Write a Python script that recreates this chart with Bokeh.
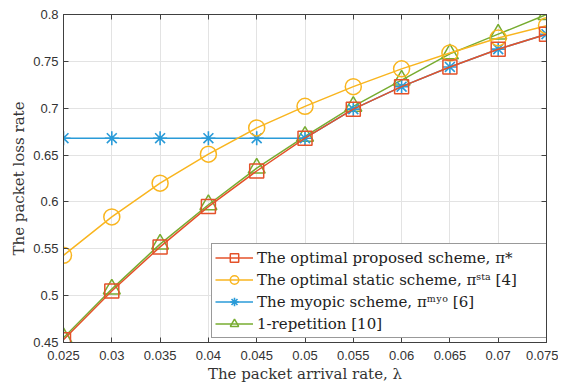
from bokeh.plotting import figure
from bokeh.models import (Range1d, FixedTicker, LinearAxis, Legend, LegendItem,
                          ColumnDataSource, CustomJSTickFormatter)
from bokeh.embed import file_html
from bokeh.resources import INLINE

# ---- data ----
arrival_rate = [0.025, 0.03, 0.035, 0.04, 0.045, 0.05, 0.055, 0.06, 0.065, 0.07, 0.075]
proposed = [0.453, 0.505, 0.552, 0.595, 0.633, 0.668, 0.699, 0.723, 0.744, 0.763, 0.779]
static = [0.543, 0.584, 0.620, 0.651, 0.679, 0.702, 0.723, 0.742, 0.759, 0.775, 0.788]
myopic = [0.668, 0.668, 0.668, 0.668, 0.668, 0.668, 0.699, 0.723, 0.744, 0.763, 0.779]
repetition = [0.455, 0.507, 0.555, 0.597, 0.636, 0.670, 0.702, 0.730, 0.758, 0.779, 0.800]

x_ticks = [0.025, 0.03, 0.035, 0.04, 0.045, 0.05, 0.055, 0.06, 0.065, 0.07, 0.075]
x_tick_labels = ["0.025", "0.03", "0.035", "0.04", "0.045", "0.05", "0.055", "0.06", "0.065", "0.07", "0.075"]
y_ticks = [0.45, 0.5, 0.55, 0.6, 0.65, 0.7, 0.75, 0.8]
y_tick_labels = ["0.45", "0.5", "0.55", "0.6", "0.65", "0.7", "0.75", "0.8"]

labels = ["The optimal proposed scheme, π*",
          "The optimal static scheme, πˢᵗᵃ [4]",
          "The myopic scheme, πᵐʸᵒ [6]",
          "1-repetition [10]"]

RED = "#E4522A"
YEL = "#F9B51F"
BLU = "#2A9BD8"
GRN = "#77AC30"
AX = "#404040"
SERIF = "DejaVu Serif"

src = ColumnDataSource(dict(x=arrival_rate, p=proposed, s=static, m=myopic, r=repetition))

p = figure(frame_width=483, frame_height=328, output_backend="svg", toolbar_location=None,
           x_range=Range1d(0.025, 0.075), y_range=Range1d(0.45, 0.8),
           min_border_left=63, min_border_right=12, min_border_top=14, min_border_bottom=38)

# draw order: green, blue, yellow, red
lg = p.line("x", "r", source=src, color=GRN, line_width=1.5)
mg = p.scatter("x", "r", source=src, marker="triangle", size=17, fill_color=None,
               line_color=GRN, line_width=1.5)
lb = p.line("x", "m", source=src, color=BLU, line_width=1.5)
mb = p.scatter("x", "m", source=src, marker="asterisk", size=14, line_color=BLU, line_width=1.6)
ly = p.line("x", "s", source=src, color=YEL, line_width=1.5)
my = p.scatter("x", "s", source=src, marker="circle", size=16, fill_color=None,
               line_color=YEL, line_width=1.5)
lr = p.line("x", "p", source=src, color=RED, line_width=1.5)
mr = p.scatter("x", "p", source=src, marker="square", size=14, fill_color=None,
               line_color=RED, line_width=1.5)

# axes
p.xaxis.ticker = FixedTicker(ticks=x_ticks)
p.xaxis.major_label_overrides = {t: l for t, l in zip(x_ticks, x_tick_labels)}
p.yaxis.ticker = FixedTicker(ticks=y_ticks)
p.yaxis.major_label_overrides = {t: l for t, l in zip(y_ticks, y_tick_labels)}

for ax in [p.xaxis[0], p.yaxis[0]]:
    ax.major_tick_in = 5
    ax.major_tick_out = 0
    ax.minor_tick_line_color = None
    ax.axis_line_color = AX
    ax.major_tick_line_color = AX
    ax.major_label_text_font = "Liberation Sans"
    ax.major_label_text_font_size = "13px"
    ax.major_label_text_color = "#333333"
    ax.axis_label_text_font = SERIF
    ax.axis_label_text_font_size = "15px"
    ax.axis_label_text_font_style = "normal"
    ax.axis_label_text_color = "#333333"

p.xaxis.major_label_standoff = 8
p.yaxis.major_label_standoff = 5
p.xaxis.axis_label = "The packet arrival rate, λ"
p.yaxis.axis_label = "The packet loss rate"
p.xaxis.axis_label_standoff = 2
p.yaxis.axis_label_standoff = 2

for loc, tk in (("right", y_ticks), ("above", x_ticks)):
    ax = LinearAxis(ticker=FixedTicker(ticks=tk),
                    formatter=CustomJSTickFormatter(code="return '';"))
    ax.major_label_standoff = 0
    ax.major_tick_in = 5
    ax.major_tick_out = 0
    ax.minor_tick_line_color = None
    ax.axis_line_color = AX
    ax.major_tick_line_color = AX
    p.add_layout(ax, loc)

p.xgrid.ticker = FixedTicker(ticks=x_ticks)
p.ygrid.ticker = FixedTicker(ticks=y_ticks)
p.grid.grid_line_color = "#E3E3E3"
p.outline_line_color = AX

legend = Legend(items=[LegendItem(label=labels[0], renderers=[lr, mr]),
                       LegendItem(label=labels[1], renderers=[ly, my]),
                       LegendItem(label=labels[2], renderers=[lb, mb]),
                       LegendItem(label=labels[3], renderers=[lg, mg])],
                location=(148, 4))
legend.label_text_font = SERIF
legend.label_text_font_size = "15px"
legend.label_text_color = "#222222"
legend.glyph_width = 38
legend.glyph_height = 21
legend.label_height = 21
legend.label_width = 286
legend.spacing = 1
legend.padding = 3
legend.margin = 0
legend.label_standoff = 4
legend.border_line_color = "#333333"
legend.border_line_width = 1
legend.background_fill_alpha = 1
p.add_layout(legend, "center")

open("out.html", "w").write(file_html(p, INLINE))
